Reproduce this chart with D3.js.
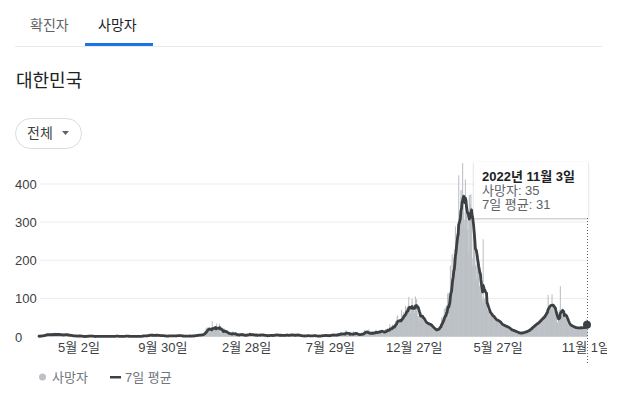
<!DOCTYPE html>
<html><head><meta charset="utf-8">
<script src="https://cdn.jsdelivr.net/npm/d3@7"></script>
<style>
body{margin:0;background:#fff;}
svg{display:block;font-family:'Liberation Sans',Arial,'Noto Sans CJK KR',sans-serif;}
</style></head><body>
<svg id="c" width="617" height="395"></svg>
<script>
const tabLabels = ["확진자", "사망자"];
const titleText = "대한민국";
const filterLabel = "전체";
const startDate = "2020-02-20";
// daily deaths, 2020-02-20 .. 2020-12-31
const deaths2020 = [
1,0,1,3,2,1,2,1,2,3,
5,6,4,4,7,3,6,6,3,3,6,6,4,6,3,8,6,3,3,10,2,8,7,2,6,5,5,5,6,4,4,
3,4,4,3,9,3,6,6,4,4,3,3,3,3,4,3,2,2,2,1,1,1,3,0,2,2,0,0,2,1,
2,2,2,0,1,0,0,0,0,0,0,0,0,0,2,1,1,1,0,1,2,2,2,0,1,0,0,0,0,0,0,
0,1,0,1,0,0,0,0,1,1,0,1,1,0,0,0,0,1,1,0,0,0,1,0,1,1,0,0,0,0,
0,0,1,0,1,1,1,1,1,1,0,0,0,0,1,0,1,0,0,0,0,1,1,1,2,1,1,0,0,0,1,
0,0,0,0,1,1,0,0,0,0,1,1,1,1,0,0,0,0,1,1,0,1,1,2,2,2,1,3,2,1,0,
3,2,5,2,3,5,4,3,3,3,2,5,1,3,4,4,3,5,3,2,1,3,3,3,4,2,1,2,2,4,
2,1,0,0,1,2,1,1,2,2,2,2,2,1,2,2,1,2,2,0,2,3,2,1,2,2,4,3,3,2,2,
1,2,1,0,1,3,1,0,1,0,1,2,1,1,1,1,2,2,1,0,0,2,3,2,1,3,2,2,3,5,
2,5,3,4,3,4,5,3,7,5,3,9,6,13,12,11,22,14,24,22,16,24,17,17,12,20,15,40,20,20,21
];
// daily deaths, 2021
const deaths2021 = [
19,25,20,15,34,19,19,19,25,33,11,10,19,15,10,10,15,22,12,10,12,12,6,8,9,11,4,6,8,7,5,
3,10,13,8,5,4,7,5,1,6,3,7,3,4,3,8,5,6,3,7,2,3,1,5,3,2,3,8,
5,3,6,5,6,8,4,4,3,4,6,7,2,2,3,2,8,3,0,6,4,1,5,6,5,4,2,4,2,6,3,
3,2,1,2,2,1,1,5,4,3,4,2,1,2,4,2,4,5,4,4,4,4,3,5,4,3,3,1,3,4,
5,3,2,1,3,3,5,5,3,3,5,3,4,1,1,5,5,6,6,1,5,3,1,3,5,4,4,3,5,4,3,
5,1,2,3,2,2,2,1,1,0,2,2,1,3,1,3,1,4,2,2,1,0,2,2,1,3,2,3,2,4,
0,0,3,1,0,0,1,2,2,2,1,2,2,1,4,3,2,3,0,6,3,2,1,1,2,3,2,4,4,5,3,
4,4,2,7,2,3,2,4,6,5,4,8,4,3,9,6,12,6,2,7,5,9,7,7,11,17,6,6,5,4,7,
8,4,12,5,3,6,2,9,14,8,5,12,5,4,6,6,5,3,4,5,7,8,9,5,5,3,11,17,16,15,
10,7,10,4,6,19,7,6,10,6,6,7,14,12,9,10,8,8,18,9,11,11,10,13,13,14,17,14,12,14,9,
9,8,15,13,20,14,15,17,21,11,15,21,32,24,16,20,20,32,28,30,25,30,40,34,39,52,56,30,31,44,
35,47,43,70,43,44,57,64,53,57,80,60,74,74,64,73,104,69,78,61,73,67,99,68,77,71,61,81,105,75,98
];
// daily deaths, 2022-01-01 .. 2022-11-03
const deaths2022 = [
67,54,54,46,66,52,45,56,55,55,43,39,44,36,37,40,34,31,30,36,34,33,30,31,28,26,27,25,22,20,18,
19,17,18,16,15,21,18,24,21,27,28,33,27,50,45,37,54,45,72,51,76,48,82,61,112,114,48,114,
96,186,128,142,216,155,161,206,226,229,289,269,270,251,293,264,423,319,301,327,384,329,384,455,370,327,306,287,412,345,330,
306,280,306,218,371,371,348,373,338,205,184,290,273,234,243,183,188,150,229,197,170,168,133,122,136,112,118,103,94,255,
86,100,98,89,82,90,72,69,67,65,59,57,56,59,55,54,52,49,48,45,44,43,40,42,41,44,42,38,36,33,34,
32,31,30,29,28,31,27,26,25,24,26,27,25,22,20,18,19,17,18,16,15,17,14,15,13,12,14,11,12,10,
10,9,8,7,11,8,9,10,12,9,11,10,13,12,14,11,15,14,17,16,18,17,20,23,21,25,25,27,29,28,31,
30,34,33,35,38,37,34,40,42,45,44,48,46,47,53,50,52,57,59,62,64,69,67,71,109,73,78,80,82,76,72,
111,78,76,71,65,60,62,55,48,40,35,38,45,70,66,132,50,52,54,56,58,60,56,60,55,48,45,38,34,32,
30,28,31,29,27,30,25,24,22,26,25,21,23,24,22,20,23,25,22,24,20,23,25,22,24,21,26,23,22,24,25,
42,45,35
];
const yTicks = [0, 100, 200, 300, 400];
const xTickDates = ["2020-05-02","2020-09-30","2021-02-28","2021-07-29","2021-12-27","2022-05-27","2022-11-01"];
const xTickLabels = ["5월 2일","9월 30일","2월 28일","7월 29일","12월 27일","5월 27일","11월 1일"];
const legendLabels = ["사망자", "7일 평균"];
const tooltipTitle = "2022년 11월 3일";
const tooltipLabels = ["사망자", "7일 평균"];

const parse = d3.utcParse("%Y-%m-%d");
const start = parse(startDate);
const daily = deaths2020.concat(deaths2021, deaths2022);
const data = daily.map((v, i) => {
  const w = daily.slice(Math.max(0, i - 6), i + 1);
  return {date: d3.utcDay.offset(start, i), value: v, avg: d3.mean(w)};
});
const last = data[data.length - 1];

const svg = d3.select("#c");
const TXT = "#3c4043";

// tabs
svg.append("text").attr("x", 30).attr("y", 30).attr("font-size", 14).attr("fill", "#5f6368").text(tabLabels[0]);
svg.append("text").attr("x", 98).attr("y", 30).attr("font-size", 14).attr("fill", "#202124").text(tabLabels[1]);
svg.append("rect").attr("x", 15).attr("y", 46).attr("width", 587).attr("height", 1).attr("fill", "#e8eaed");
svg.append("rect").attr("x", 85).attr("y", 43).attr("width", 68).attr("height", 3).attr("fill", "#1a73e8");
// title
svg.append("text").attr("x", 16).attr("y", 87).attr("font-size", 18).attr("fill", "#202124").text(titleText);
// filter button
svg.append("rect").attr("x", 15.5).attr("y", 118.5).attr("width", 66).attr("height", 30).attr("rx", 15)
  .attr("fill", "#fff").attr("stroke", "#dadce0");
svg.append("text").attr("x", 27).attr("y", 138).attr("font-size", 14).attr("fill", TXT).text(filterLabel);
svg.append("path").attr("d", "M62,131 L69,131 L65.5,135 Z").attr("fill", "#5f6368");

// scales
const x = d3.scaleUtc().domain([start, last.date]).range([39, 587]);
const y = d3.scaleLinear().domain([0, 400]).range([336.5, 184]);

// grid
svg.append("g").selectAll("line").data(yTicks).join("line")
  .attr("x1", 40).attr("x2", 588).attr("y1", d => y(d)).attr("y2", d => y(d))
  .attr("stroke", "#ececec").attr("stroke-width", 1);
// y labels
svg.append("g").selectAll("text").data(yTicks).join("text")
  .attr("x", 15).attr("y", d => y(d) + 5).attr("font-size", 13).attr("fill", TXT).text(d => d);

// bars
const step = x(d3.utcDay.offset(start, 1)) - x(start);
svg.append("g").selectAll("rect").data(data).join("rect")
  .attr("x", d => x(d.date) - step / 2 - 0.25).attr("width", step + 0.5)
  .attr("y", d => y(d.value)).attr("height", d => y(0) - y(d.value))
  .attr("fill", "#bcc0c5");

// line
svg.append("path").datum(data)
  .attr("d", d3.line().x(d => x(d.date)).y(d => y(d.avg)))
  .attr("fill", "none").attr("stroke", "#3c4043").attr("stroke-width", 2.8)
  .attr("stroke-linejoin", "round").attr("stroke-linecap", "round");

// x axis labels
svg.append("clipPath").attr("id", "xc").append("rect").attr("x", 0).attr("y", 330).attr("width", 607).attr("height", 40);
svg.append("g").attr("clip-path", "url(#xc)").selectAll("text").data(xTickDates).join("text")
  .attr("x", d => x(parse(d))).attr("y", 352).attr("text-anchor", "middle")
  .attr("font-size", 13).attr("fill", TXT).text((d, i) => xTickLabels[i]);

// hover line, dot
const hx = x(last.date);
svg.append("line").attr("x1", hx + 0.5).attr("x2", hx + 0.5).attr("y1", 218).attr("y2", 365)
  .attr("stroke", "#5f6368").attr("stroke-width", 1).attr("stroke-dasharray", "1,2");
svg.append("circle").attr("cx", hx).attr("cy", y(last.avg)).attr("r", 4).attr("fill", "#3c4043");

// tooltip
const defs = svg.append("defs");
const f = defs.append("filter").attr("id", "sh").attr("x", "-20%").attr("y", "-20%").attr("width", "140%").attr("height", "150%");
f.append("feDropShadow").attr("dx", 0).attr("dy", 1).attr("stdDeviation", 1.2).attr("flood-color", "#000").attr("flood-opacity", 0.25);
svg.append("rect").attr("x", 474).attr("y", 162).attr("width", 114).attr("height", 56)
  .attr("fill", "#fff").attr("filter", "url(#sh)");
svg.append("text").attr("x", 482).attr("y", 181).attr("font-size", 13).attr("font-weight", "bold")
  .attr("fill", "#202124").text(tooltipTitle);
svg.append("text").attr("x", 482).attr("y", 195).attr("font-size", 13).attr("fill", "#5f6368")
  .text(`${tooltipLabels[0]}: ${last.value}`);
svg.append("text").attr("x", 482).attr("y", 209).attr("font-size", 13).attr("fill", "#5f6368")
  .text(`${tooltipLabels[1]}: ${Math.round(last.avg)}`);

// legend
svg.append("circle").attr("cx", 42.5).attr("cy", 377).attr("r", 3.5).attr("fill", "#bdc1c6");
svg.append("text").attr("x", 52).attr("y", 382).attr("font-size", 13).attr("fill", "#70757a").text(legendLabels[0]);
svg.append("rect").attr("x", 110).attr("y", 376).attr("width", 11).attr("height", 2.5).attr("fill", "#3c4043");
svg.append("text").attr("x", 125).attr("y", 382).attr("font-size", 13).attr("fill", "#70757a").text(legendLabels[1]);
</script>
</body></html>
